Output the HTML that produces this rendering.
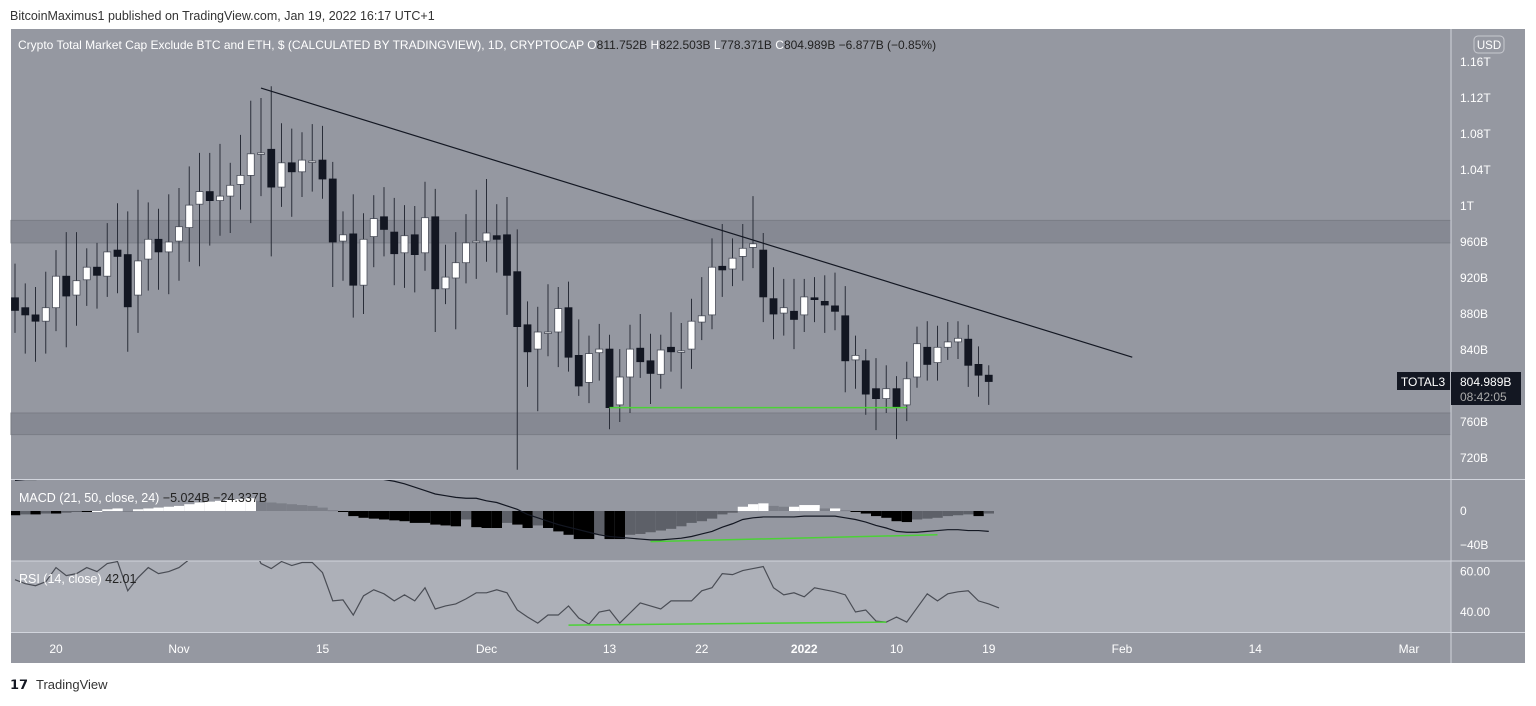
<!DOCTYPE html>
<html><head><meta charset="utf-8"><style>
body{margin:0;background:#fff;width:1536px;height:701px;overflow:hidden;font-family:"Liberation Sans",sans-serif}
svg text{font-family:"Liberation Sans",sans-serif}
</style></head><body>
<svg id="chart" width="1536" height="701" xmlns="http://www.w3.org/2000/svg">
<text x="10" y="20" font-size="12.5" fill="#333">BitcoinMaximus1 published on TradingView.com, Jan 19, 2022 16:17 UTC+1</text>
<rect x="11" y="29" width="1514" height="634" fill="#9598a1"/>
<g id="bands"></g>
<rect x="11" y="561" width="1440" height="71" fill="#adb0b8"/>
<line x1="1451" y1="29" x2="1451" y2="663" stroke="#d1d4dc"/>
<line x1="11" y1="479.5" x2="1525" y2="479.5" stroke="#d1d4dc"/>
<line x1="11" y1="561" x2="1525" y2="561" stroke="#d1d4dc"/>
<line x1="11" y1="632.5" x2="1525" y2="632.5" stroke="#d1d4dc"/>
<g id="plot"></g>
<g id="axes"></g>
<text x="18" y="49" font-size="12" fill="#fff">Crypto Total Market Cap Exclude BTC and ETH, $ (CALCULATED BY TRADINGVIEW), 1D, CRYPTOCAP <tspan fill="#fff">O</tspan><tspan fill="#222">811.752B</tspan> H<tspan fill="#222">822.503B</tspan> L<tspan fill="#222">778.371B</tspan> C<tspan fill="#222">804.989B</tspan> <tspan fill="#222">−6.877B (−0.85%)</tspan></text>
<text x="19" y="502" font-size="12.5" fill="#fff">MACD (21, 50, close, 24) <tspan fill="#222">−5.024B  −24.337B</tspan></text>
<text x="19" y="583" font-size="12.5" fill="#fff">RSI (14, close) <tspan fill="#222">42.01</tspan></text>
<rect x="1474" y="36" width="30" height="17" rx="4" fill="none" stroke="#c8cad0"/>
<text x="1489" y="49" font-size="11.5" fill="#fff" text-anchor="middle">USD</text>
<rect x="1397" y="372" width="53" height="18" fill="#131722"/>
<text x="1423" y="386" font-size="12" fill="#fff" text-anchor="middle">TOTAL3</text>
<rect x="1451" y="372" width="70" height="33" fill="#131722"/>
<text x="1460" y="386" font-size="12" fill="#fff">804.989B</text>
<text x="1460" y="401" font-size="12" fill="#aaa">08:42:05</text>
<g><text x="10" y="689" font-size="13" font-weight="bold" fill="#131722">𝟭𝟳</text><text x="36" y="689" font-size="13" fill="#333">TradingView</text></g>
</svg>
<script>
const opens=[898,887,879,872,887,922,901,918,932,922,951,946,901,941,963,949,961,976,1002,1016,1006,1011,1024,1034,1059,1063,1021,1048,1038,1050,1051,1030,961,969,912,966,988,971,948,968,948,988,908,920,937,961,961,967,968,927,868,841,860,860,887,834,804,837,841,779,810,842,828,813,843,839,841,871,879,933,930,944,954,951,897,881,883,879,898,894,889,878,829,828,797,786,797,779,810,843,826,843,849,852,824,812];
const highs=[936,914,910,927,951,971,971,953,959,981,1003,994,1018,1004,997,1013,1020,1044,1059,1059,1069,1048,1079,1117,1120,1133,1092,1086,1082,1091,1089,1049,994,1013,992,1012,1021,1009,1001,1000,1027,1019,957,971,991,1018,1030,1002,1010,974,894,888,913,910,916,874,856,869,857,841,868,880,858,857,882,870,897,921,964,980,964,980,1011,970,932,919,919,919,921,923,926,911,856,841,831,823,811,827,866,872,867,871,872,868,844,823];
const lows=[859,836,827,836,861,843,867,889,886,899,903,838,859,906,907,902,917,938,933,956,967,970,996,981,1011,944,999,988,1010,1016,1008,910,917,876,880,932,944,912,909,904,928,860,891,863,914,919,938,926,879,707,799,772,833,821,816,789,781,806,752,760,770,809,780,797,816,797,819,851,863,899,911,917,931,871,852,856,841,860,871,859,862,793,797,768,751,770,741,761,798,806,806,829,830,799,788,779];
const closes=[884,879,872,887,922,900,917,932,923,949,944,888,939,963,949,960,977,1001,1016,1006,1011,1023,1034,1058,1059,1021,1048,1038,1051,1050,1030,960,968,912,963,986,974,947,967,946,987,908,921,937,959,961,970,963,923,866,838,860,860,886,832,800,836,841,776,810,841,827,814,840,838,839,872,878,932,929,942,953,958,899,880,887,874,899,896,890,883,828,834,791,786,797,776,808,847,824,843,849,853,823,812,805];
const macdHist=[-5,-4,-4,-3,-3,-2,-1,-1,0,2,3,0,2,3,4,5,6,8,10,11,12,13,14,15,12,10,9,8,7,6,4,1,-1,-6,-8,-9,-10,-11,-12,-14,-14,-16,-17,-18,-10,-19,-20,-20,-14,-16,-20,-17,-20,-24,-28,-33,-33,-28,-33,-33,-28,-27,-25,-23,-21,-18,-14,-12,-9,-4,-2,5,8,9,6,5,5,7,7,3,3,1,-1,-3,-6,-8,-12,-13,-10,-9,-8,-6,-5,-4,-6,-3];
const macdLine=[36,37,37,38,40,43,46,50,54,58,62,66,68,70,72,74,76,78,80,82,84,86,88,88,87,85,82,79,76,72,66,60,54,48,44,40,37,35,32,28,24,20,18,16,15,15,12,10,6,2,-4,-8,-12,-16,-19,-22,-25,-28,-30,-31,-32,-33,-34,-34,-33,-32,-30,-27,-24,-19,-15,-10,-8,-7,-7,-7,-7,-6,-6,-6,-6,-8,-10,-13,-17,-20,-24,-25,-25,-24,-23,-22,-22,-23,-23,-24];
const rsiVals=[56,54,53,55,62,58,59,62,60,64,65,50.5,57,62,59,60,62,66,69,71,70,72,73,75,64,61.5,65,63,64.5,64.5,59.5,45.5,46,38.5,48,51,49,45.5,48.5,45.5,52,41.5,43,44,46.5,49.5,49.5,51,49.5,41,37.5,34.5,38.5,38.5,43,37,34,40,41,34.5,39.5,44.5,43,41.5,45.5,45.5,45.5,50.5,52,59,58.5,60.5,61.5,62.5,52,48.5,49.5,47.5,52,51,50,48.5,40,41,35.5,35,37.5,35,42,49,45.5,49,50,50.5,45.5,44,42];
const priceTicks=[1160,1120,1080,1040,1000,960,920,880,840,760,720];
const priceTickLabels=["1.16T","1.12T","1.08T","1.04T","1T","960B","920B","880B","840B","760B","720B"];
const timeTickIdx=[4,16,30,46,58,67,77,86,95,108,121,136];
const timeTickLabels=["20","Nov","15","Dec","13","22","2022","10","19","Feb","14","Mar"];
const trendStart=[24,1131], trendEnd=[109,832];
const upperZone=[959,984], lowerZone=[746,770];
const supportLine=[58,87,776];
const macdDiv=[62,90,-36,-28];
const rsiDiv=[54,85,33.5,35];

const NS="http://www.w3.org/2000/svg";
const xOf=i=>15+i*10.25;
const yP=p=>458-(p-720)*0.9;
const yM=v=>511-v*0.85;
const yR=r=>612-(r-40)*2.02;
function mk(tag,attrs,parent){const e=document.createElementNS(NS,tag);for(const k in attrs)e.setAttribute(k,attrs[k]);parent.appendChild(e);return e;}
const plot=document.getElementById('plot'), axes=document.getElementById('axes'), bands=document.getElementById('bands');

[upperZone,lowerZone].forEach((z,k)=>{
 const r=mk('rect',{x:11,y:yP(z[1]),width:1440,height:yP(z[0])-yP(z[1]),fill:'#868993',stroke:'#7a7d86'},bands);
 
 
});
const ml=mk('line',{x1:11,x2:1451,y1:yR(50),y2:yR(50),stroke:'#e8e9ec','stroke-width':1.5},bands);



const defs=mk('defs',{},plot);
const c1=mk('clipPath',{id:'cm'},defs);mk('rect',{x:11,y:29,width:1440,height:450},c1);
const c2=mk('clipPath',{id:'cd'},defs);mk('rect',{x:11,y:480,width:1440,height:81},c2);
const c3=mk('clipPath',{id:'cr'},defs);mk('rect',{x:11,y:561,width:1440,height:71},c3);
const gMain=mk('g',{'clip-path':'url(#cm)'},plot);
const gMacd=mk('g',{'clip-path':'url(#cd)'},plot);
const gRsi=mk('g',{'clip-path':'url(#cr)'},plot);

for(let i=0;i<opens.length;i++){
 const x=xOf(i),o=opens[i],c=closes[i],up=c>=o;
 const w=mk('line',{x1:x,x2:x,y1:yP(highs[i]),y2:yP(lows[i]),stroke:'#2a2e39','stroke-width':1},gMain);
 
 
 const top=yP(Math.max(o,c)),h=Math.max(1.5,yP(Math.min(o,c))-top);
 const b=mk('rect',{x:x-3.5,y:top,width:7,height:h,fill:up?'#ffffff':'#131722',stroke:up?'#4a4e59':'#131722','stroke-width':0.8},gMain);
 
 
}
const tl=mk('line',{x1:xOf(trendStart[0]),y1:yP(trendStart[1]),x2:xOf(trendEnd[0]),y2:yP(trendEnd[1]),stroke:'#131722','stroke-width':1.2},gMain);


const sl=mk('line',{x1:xOf(supportLine[0]),x2:xOf(supportLine[1]),y1:yP(supportLine[2]),y2:yP(supportLine[2]),stroke:'#4cd137','stroke-width':1.5},gMain);



for(let i=0;i<macdHist.length;i++){
 const v=macdHist[i],prev=i?macdHist[i-1]:v;
 let col=v>=0?(v>=prev?'#ffffff':'#7c7f88'):(v<=prev?'#000000':'#5d6068');
 const y0=yM(0),y1=yM(v);
 const r=mk('rect',{x:xOf(i)-5,y:Math.min(y0,y1),width:10.25,height:Math.max(1,Math.abs(y1-y0)),fill:col},gMacd);
 
 
}
const mp=mk('polyline',{points:macdLine.map((v,i)=>xOf(i)+','+yM(v)).join(' '),fill:'none',stroke:'#131722','stroke-width':1.2},gMacd);


const md=mk('line',{x1:xOf(macdDiv[0]),x2:xOf(macdDiv[1]),y1:yM(macdDiv[2]),y2:yM(macdDiv[3]),stroke:'#4cd137','stroke-width':1.5},gMacd);



const rp=mk('polyline',{points:rsiVals.map((v,i)=>xOf(i)+','+yR(v)).join(' '),fill:'none',stroke:'#4a4d55','stroke-width':1.2},gRsi);


const rd=mk('line',{x1:xOf(rsiDiv[0]),x2:xOf(rsiDiv[1]),y1:yR(rsiDiv[2]),y2:yR(rsiDiv[3]),stroke:'#4cd137','stroke-width':1.5},gRsi);



priceTicks.forEach((p,k)=>{
 const t=mk('text',{x:1460,y:yP(p)+4,'font-size':12,fill:'#fff'},axes);t.textContent=priceTickLabels[k];
 
 
});
[[0,'0'],[-40,'−40B']].forEach(a=>{
 const t=mk('text',{x:1460,y:yM(a[0])+4,'font-size':12,fill:'#fff'},axes);t.textContent=a[1];
 
 
});
[[60,'60.00'],[40,'40.00']].forEach(a=>{
 const t=mk('text',{x:1460,y:yR(a[0])+4,'font-size':12,fill:'#fff'},axes);t.textContent=a[1];
 
 
});
timeTickIdx.forEach((idx,k)=>{
 const t=mk('text',{x:xOf(idx),y:653,'font-size':12,fill:'#fff','text-anchor':'middle','font-weight':timeTickLabels[k]==='2022'?'bold':'normal'},axes);t.textContent=timeTickLabels[k];
 
 
});
</script>
</body></html>
